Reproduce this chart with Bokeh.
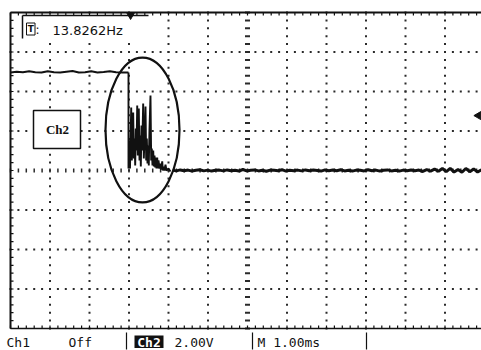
import numpy as np
from bokeh.plotting import figure
from bokeh.models import Range1d
from bokeh.core.properties import value
from bokeh.embed import file_html
from bokeh.resources import INLINE

# ---- scope settings -------------------------------------------------------
TIME_PER_DIV = 1.0      # ms / div  (M 1.00ms)
VOLT_PER_DIV = 2.0      # V / div   (Ch2 2.00V)
H_DIVS = 12
V_DIVS = 8
FREQ_READOUT = "13.8262Hz"

# ---- Ch2 trace ------------------------------------------------------------
# held high before the release
high_v = [4.96, 5.00, 4.97, 5.02, 4.98, 4.96, 5.03, 4.97, 4.96, 5.00,
          5.04, 4.96, 4.98, 5.02, 4.96, 4.99, 5.03, 4.97, 4.96, 4.96]

# release and ringing burst (ms, V)
burst_t = [-3.013, -3.013, -2.987, -2.975, -2.944, -2.929, -2.911, -2.894, -2.878, -2.861,
           -2.843, -2.828, -2.810, -2.792, -2.777, -2.752, -2.734, -2.716, -2.701, -2.684,
           -2.666, -2.641, -2.625, -2.608, -2.582, -2.565, -2.549, -2.532, -2.514, -2.499,
           -2.481, -2.456, -2.438, -2.423, -2.405, -2.387, -2.372, -2.354, -2.337, -2.322,
           -2.304, -2.286, -2.271, -2.253, -2.228, -2.203, -2.185, -2.159, -2.144, -2.127,
           -2.101, -2.076, -2.051, -2.000, -1.949]
burst_v = [4.96, 0.10, 1.52, 0.10, 3.19, 0.51, 2.03, 2.94, 0.61, 1.62,
           0.25, 2.13, 1.01, 3.29, 0.76, 3.14, 0.51, 1.77, 0.20, 2.28,
           1.01, 3.39, 0.61, 1.52, 3.24, 0.51, 1.62, 0.35, 1.27, 0.25,
           2.13, 3.80, 0.51, 1.11, 0.25, 1.01, 0.20, 0.76, 0.15, 0.66,
           0.10, 0.66, 0.10, 0.51, 0.10, 0.35, 0.05, 0.46, 0.00, 0.20,
           0.00, 0.30, 0.00, 0.10, -0.05]

# settled level after the burst
settled_v = [0.02, -0.02, 0.03, -0.01, 0.02, -0.03, 0.01, 0.04, -0.02, 0.02,
             -0.03, 0.01, 0.02, -0.02, 0.03, -0.01, 0.01, -0.03, 0.05, -0.02,
             0.01, 0.03, -0.02, 0.01, -0.04, 0.02, 0.01, -0.01, 0.04, -0.03,
             0.01, -0.01, 0.02, -0.02, 0.03, -0.01, 0.02, 0.00, -0.03, 0.03,
             -0.01, 0.02, -0.01, 0.04, -0.02, 0.01, -0.03, 0.02, 0.01, -0.02,
             0.04, -0.01, 0.02, -0.03, 0.01, 0.03, -0.02, 0.01, -0.03, 0.02,
             -0.01, 0.03, -0.01, 0.02, -0.05, 0.04, -0.03, 0.07, -0.04, 0.10,
             -0.06, 0.11, -0.08, 0.05, -0.09, 0.10, -0.06, 0.08, -0.08, 0.04]

TRIG_T = -2.96          # trigger position (ms)
TRIG_LEVEL = 2.78       # trigger level (V)

# ---- page geometry (pixels) -----------------------------------------------
W, H = 481, 350
DIV_PX = 39.5
CX, CY = 247.0, 170.0   # screen centre in pixels


def px_t(px):
    return (px - CX) / DIV_PX * TIME_PER_DIV


def py_v(py):
    return (CY - py) / DIV_PX * VOLT_PER_DIV


T_HALF = H_DIVS / 2 * TIME_PER_DIV
V_HALF = V_DIVS / 2 * VOLT_PER_DIV

p = figure(width=W, height=H, output_backend="svg", toolbar_location=None,
           x_range=Range1d(px_t(0), px_t(W)), y_range=Range1d(py_v(H), py_v(0)),
           x_axis_location=None, y_axis_location=None, min_border=0)
p.outline_line_color = None
p.xgrid.visible = False
p.ygrid.visible = False
p.background_fill_color = "white"
p.border_fill_color = "white"

INK = "#111111"
DOT = "#2a2a2a"

# ---- dotted graticule -----------------------------------------------------
minor_t = np.arange(-T_HALF, T_HALF + 1e-9, TIME_PER_DIV / 5)
minor_v = np.arange(-V_HALF, V_HALF + 1e-9, VOLT_PER_DIV / 5)
col_t = [k * TIME_PER_DIV for k in range(-5, 6) if k != 0]
row_v = [k * VOLT_PER_DIV for k in range(-3, 4) if k != 0]

dx, dy = [], []
for t in col_t:
    dx += [t] * len(minor_v)
    dy += list(minor_v)
for v in row_v:
    dx += list(minor_t)
    dy += [v] * len(minor_t)
p.scatter(dx, dy, marker="square", size=2, fill_color=DOT, line_color=None)

# centre cross with fine ticks
p.scatter([0.0] * len(minor_v), minor_v, marker="dash", size=5, line_width=2, line_color=DOT)
p.scatter(minor_t, [0.0] * len(minor_t), marker="dash", angle=np.pi / 2, size=4,
          line_width=1.5, line_color=DOT)

# ---- screen border with ruler ticks ----------------------------------------
tick_t = 3 / DIV_PX * TIME_PER_DIV
tick_v = 3 / DIV_PX * VOLT_PER_DIV
p.line([-T_HALF, -T_HALF], [-V_HALF, V_HALF], line_color=INK, line_width=2)
p.line([-T_HALF, px_t(W)], [V_HALF, V_HALF], line_color=INK, line_width=2)
p.line([-T_HALF, px_t(W)], [-V_HALF, -V_HALF], line_color=INK, line_width=1.5)
p.segment(x0=minor_t, y0=[V_HALF] * len(minor_t), x1=minor_t, y1=[V_HALF - tick_v] * len(minor_t),
          line_color=INK, line_width=1.2)
p.segment(x0=minor_t, y0=[-V_HALF] * len(minor_t), x1=minor_t, y1=[-V_HALF + tick_v] * len(minor_t),
          line_color=INK, line_width=1.2)
p.segment(x0=[-T_HALF] * len(minor_v), y0=minor_v, x1=[-T_HALF + tick_t] * len(minor_v), y1=minor_v,
          line_color=INK, line_width=1.2)

# ---- frequency readout tab -------------------------------------------------
p.quad(left=px_t(22), right=px_t(148), top=py_v(15), bottom=py_v(38),
       fill_color="white", line_color=None)
p.line([px_t(22), px_t(148)], [py_v(15), py_v(15)], line_color=INK, line_width=1.5)
p.line([px_t(22), px_t(22)], [py_v(15), py_v(38)], line_color=INK, line_width=1.5)
p.quad(left=px_t(26), right=px_t(34.5), top=py_v(22.5), bottom=py_v(34.5),
       fill_color=None, line_color=INK, line_width=1)
p.text(x=[px_t(30.3)], y=[py_v(28.8)], text=["T"], text_font=value("DejaVu Sans"),
       text_font_size="9px", text_font_style="bold", text_align="center",
       text_baseline="middle", text_color=INK)
p.text(x=[px_t(37)], y=[py_v(29)], text=[":"], text_font=value("DejaVu Sans"),
       text_font_size="12px", text_align="center", text_baseline="middle", text_color=INK)
p.text(x=[px_t(52)], y=[py_v(29.5)], text=[FREQ_READOUT], text_font=value("DejaVu Sans"),
       text_font_size="13px", text_align="left", text_baseline="middle", text_color=INK)

# trigger markers
p.scatter([TRIG_T], [V_HALF - 0.12], marker="inverted_triangle", size=8,
          fill_color=INK, line_color=INK)
p.scatter([px_t(478)], [TRIG_LEVEL], marker="triangle", angle=np.pi / 2, size=8,
          fill_color=INK, line_color=INK)

# ---- channel label box -----------------------------------------------------
p.quad(left=px_t(33), right=px_t(80), top=py_v(110), bottom=py_v(148),
       fill_color="white", line_color=INK, line_width=1.5)
p.text(x=[px_t(57)], y=[py_v(129)], text=["Ch2"], text_font=value("Liberation Serif"),
       text_font_size="13px", text_font_style="bold", text_align="center",
       text_baseline="middle", text_color=INK)

# ---- trace -----------------------------------------------------------------
high_t = np.linspace(-T_HALF, burst_t[0], len(high_v))
settled_t = np.linspace(-1.90, px_t(W), len(settled_v))
p.line(high_t, high_v, line_color=INK, line_width=2)
p.line(burst_t, burst_v, line_color=INK, line_width=1.9)
p.line(settled_t, settled_v, line_color=INK, line_width=3)

# highlight around the burst
p.ellipse(x=[px_t(142)], y=[py_v(129.5)], width=[74 / DIV_PX * TIME_PER_DIV],
          height=[145 / DIV_PX * VOLT_PER_DIV], fill_color=None, line_color=INK, line_width=2.2)

# ---- status bar ------------------------------------------------------------
status_y = py_v(341.5)
mono = value("DejaVu Sans Mono")
for lbl, xp in [("Ch1", 6), ("Off", 68), ("2.00V", 174), ("M 1.00ms", 257)]:
    p.text(x=[px_t(xp)], y=[status_y], text=[lbl], text_font=mono, text_font_size="13px",
           text_align="left", text_baseline="middle", text_color=INK)
p.quad(left=px_t(134), right=px_t(163), top=py_v(335), bottom=py_v(347.5),
       fill_color=INK, line_color=None)
p.text(x=[px_t(148.5)], y=[status_y], text=["Ch2"], text_font=mono, text_font_size="13px",
       text_font_style="bold", text_align="center", text_baseline="middle", text_color="white")
for xp in [126, 252, 366]:
    p.line([px_t(xp), px_t(xp)], [py_v(332), py_v(349)], line_color=INK, line_width=1.2)

open("out.html", "w").write(file_html(p, INLINE))
